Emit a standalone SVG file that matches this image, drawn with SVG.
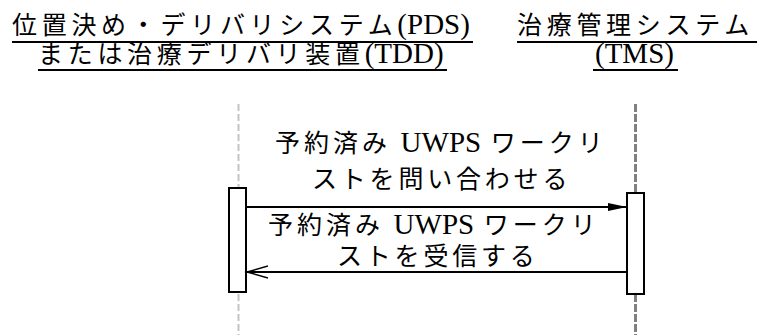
<svg xmlns="http://www.w3.org/2000/svg" width="759" height="335" viewBox="0 0 759 335">
<style>
.t{font-family:"Noto Sans CJK JP",sans-serif;font-size:25px;fill:#000;letter-spacing:4.7px}
.m{letter-spacing:3.8px}
.n{letter-spacing:4px}
.lat{font-family:"Liberation Serif",serif;font-size:29px;letter-spacing:0}
.act{fill:#fff;stroke:#000;stroke-width:2}
.msg{stroke:#000;stroke-width:2;fill:none}
.ul{stroke:#000;stroke-width:2}
</style>
<defs>
<marker id="filled" markerWidth="20" markerHeight="10" refX="19" refY="5" orient="auto" markerUnits="userSpaceOnUse">
<path d="M0,1 L19,5 L0,9 Z" fill="#000"/>
</marker>
<marker id="open" markerWidth="24" markerHeight="14" refX="21" refY="7" orient="auto" markerUnits="userSpaceOnUse">
<path d="M0,1 L21,7 L0,13" fill="none" stroke="#000" stroke-width="1.5"/>
</marker>
</defs>
<g id="pds">
<text class="t" x="12" y="34">位置決め・デリバリシステム<tspan class="lat" font-family="Liberation Serif, serif">(PDS)</tspan></text>
<line class="ul" x1="12" y1="42" x2="473" y2="42"/>
<text class="t" x="38" y="63">または治療デリバリ装置<tspan class="lat" font-family="Liberation Serif, serif">(TDD)</tspan></text>
<line class="ul" x1="38" y1="70" x2="447" y2="70"/>
<line x1="238.5" y1="104" x2="238.5" y2="335" stroke="#c4c4c4" stroke-width="2" stroke-dasharray="7,3"/>
<rect class="act" x="229" y="188" width="17" height="104"/>
</g>
<g id="tms">
<text class="t" x="517" y="34">治療管理システム</text>
<line class="ul" x1="517" y1="42" x2="757" y2="42"/>
<text class="t" x="595" y="63"><tspan class="lat" font-family="Liberation Serif, serif" font-size="30">(TMS)</tspan></text>
<line class="ul" x1="593" y1="70" x2="678" y2="70"/>
<line x1="635.5" y1="104" x2="635.5" y2="335" stroke="#808080" stroke-width="3" stroke-dasharray="8,2"/>
<rect class="act" x="627" y="193" width="17" height="101"/>
</g>
<g id="connectors">
<line class="msg" x1="247" y1="207" x2="627" y2="207" marker-end="url(#filled)"/>
<text class="t n" x="275" y="152">予約済み <tspan class="lat" font-family="Liberation Serif, serif">UWPS</tspan> ワークリ</text>
<text class="t m" x="312" y="188">ストを問い合わせる</text>
<line class="msg" x1="627" y1="272" x2="247" y2="272" marker-end="url(#open)"/>
<text class="t n" x="268" y="234">予約済み <tspan class="lat" font-family="Liberation Serif, serif">UWPS</tspan> ワークリ</text>
<text class="t m" x="337" y="265">ストを受信する</text>
</g>
</svg>
